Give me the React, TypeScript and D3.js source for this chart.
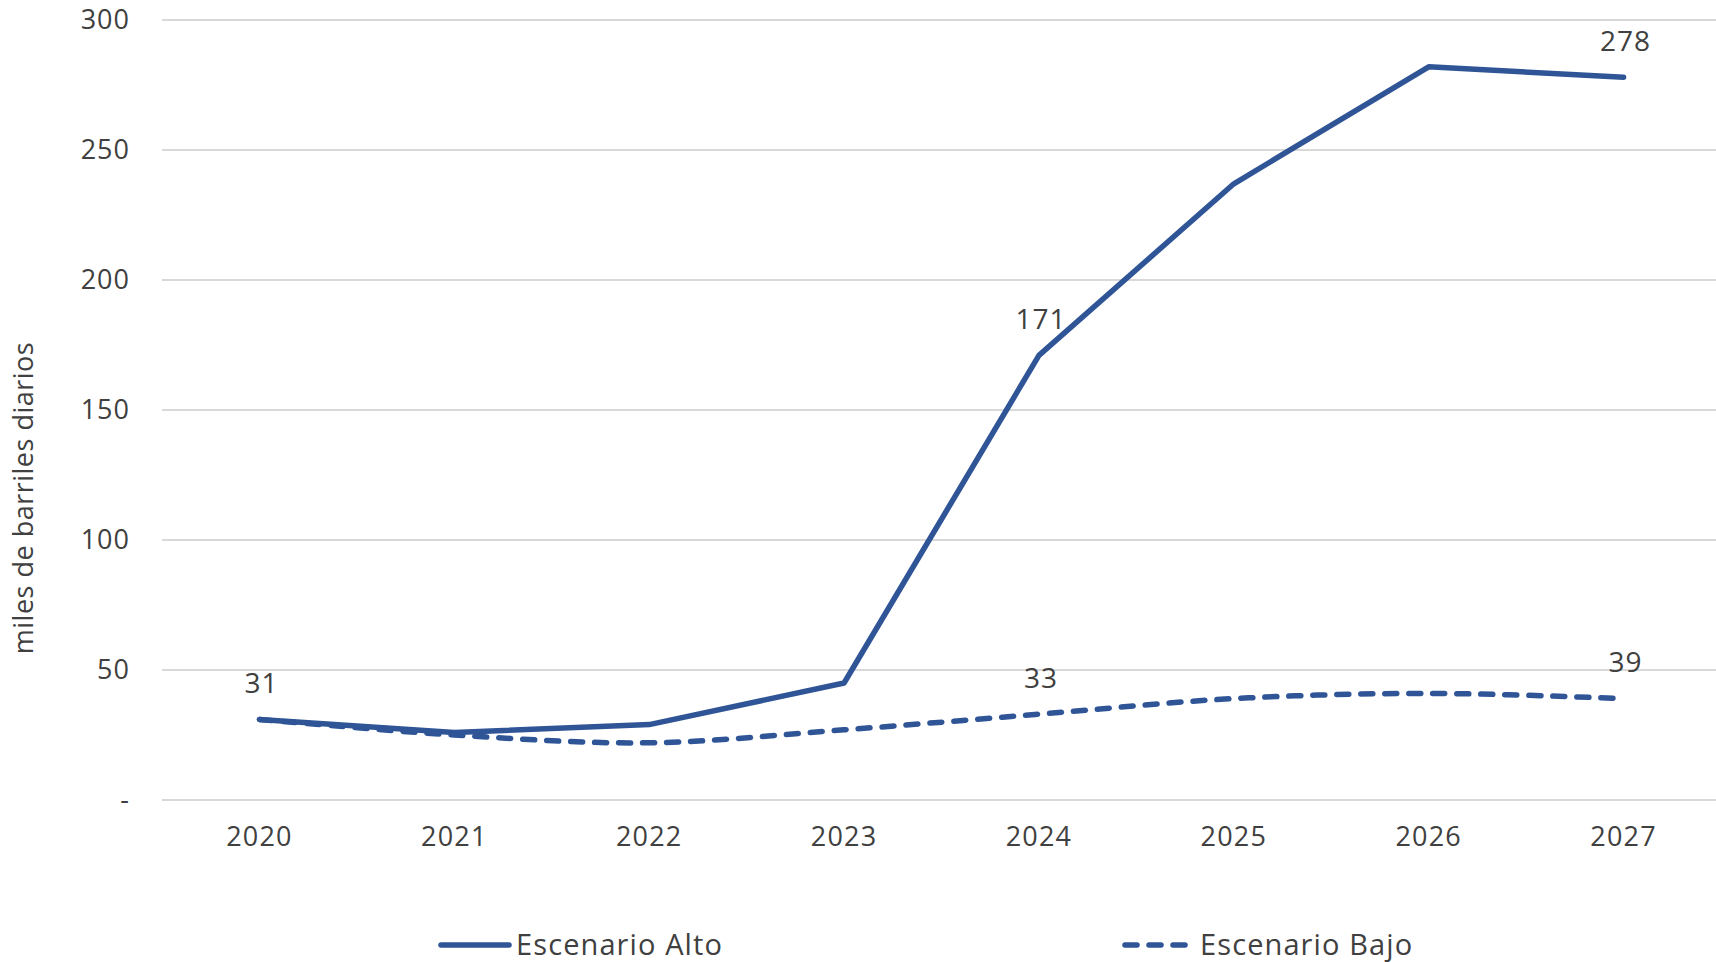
import React from "react";
import * as d3 from "d3";

const years = ["2020", "2021", "2022", "2023", "2024", "2025", "2026", "2027"];
const escenarioAlto = [31, 26, 29, 45, 171, 237, 282, 278];
const escenarioBajo = [31, 25, 22, 27, 33, 39, 41, 39];
const yTicks = [0, 50, 100, 150, 200, 250, 300];
const altoLabels = [0, 4, 7];
const bajoLabels = [4, 7];

const W = 1716;
const H = 962;
const COLOR = "#2F5597";
const TEXT = "#404040";
const FONT = "'Open Sans', 'Noto Sans', sans-serif";

export default function App() {
  const x = d3.scaleBand<string>().domain(years).range([162, 1721]);
  const cx = (i: number) => (x(years[i]) as number) + x.bandwidth() / 2;
  const y = d3.scaleLinear().domain([0, 300]).range([800, 20]);

  const lineAlto = d3
    .line<number>()
    .x((_, i) => cx(i))
    .y((d) => y(d));
  const lineBajo = d3
    .line<number>()
    .x((_, i) => cx(i))
    .y((d) => y(d))
    .curve(d3.curveCatmullRom.alpha(0.5));

  return (
    <svg
      width={W}
      height={H}
      style={{ position: "absolute", left: 0, top: 0, background: "#fff" }}
      fontFamily={FONT}
    >
      {yTicks.map((t) => (
        <g key={t}>
          <line x1={162} x2={W} y1={y(t)} y2={y(t)} stroke="#d9d9d9" strokeWidth={2} />
          <text
            x={130}
            y={y(t)}
            dy="0.35em"
            textAnchor="end"
            fontSize={27}
            letterSpacing={1}
            fill={TEXT}
          >
            {t === 0 ? "-" : t}
          </text>
        </g>
      ))}
      {years.map((yr, i) => (
        <text key={yr} x={cx(i)} y={837} dy="0.35em" textAnchor="middle" fontSize={27} letterSpacing={1.2} fill={TEXT}>
          {yr}
        </text>
      ))}
      <text
        transform={`translate(24, 498) rotate(-90)`}
        textAnchor="middle"
        dy="0.35em"
        fontSize={27}
        letterSpacing={0.5}
        fill={TEXT}
      >
        miles de barriles diarios
      </text>
      <path
        d={lineBajo(escenarioBajo) || ""}
        fill="none"
        stroke={COLOR}
        strokeWidth={5.5}
        strokeDasharray="12 12"
        strokeLinecap="round"
      />
      <path
        d={lineAlto(escenarioAlto) || ""}
        fill="none"
        stroke={COLOR}
        strokeWidth={5.5}
        strokeLinecap="round"
        strokeLinejoin="round"
      />
      {altoLabels.map((i) => (
        <text key={"a" + i} x={cx(i) + 2} y={y(escenarioAlto[i]) - 36} dy="0.35em" textAnchor="middle" fontSize={28} letterSpacing={1} fill={TEXT}>
          {escenarioAlto[i]}
        </text>
      ))}
      {bajoLabels.map((i) => (
        <text key={"b" + i} x={cx(i) + 2} y={y(escenarioBajo[i]) - 36} dy="0.35em" textAnchor="middle" fontSize={28} letterSpacing={1} fill={TEXT}>
          {escenarioBajo[i]}
        </text>
      ))}
      <g>
        <line x1={441} x2={509} y1={945} y2={945} stroke={COLOR} strokeWidth={5.5} strokeLinecap="round" />
        <text x={516} y={945} dy="0.35em" fontSize={29} letterSpacing={1.1} fill={TEXT}>
          Escenario Alto
        </text>
        <line
          x1={1125}
          x2={1187}
          y1={945}
          y2={945}
          stroke={COLOR}
          strokeWidth={5.5}
          strokeDasharray="12 12"
          strokeLinecap="round"
        />
        <text x={1200} y={945} dy="0.35em" fontSize={29} letterSpacing={1.1} fill={TEXT}>
          Escenario Bajo
        </text>
      </g>
    </svg>
  );
}
